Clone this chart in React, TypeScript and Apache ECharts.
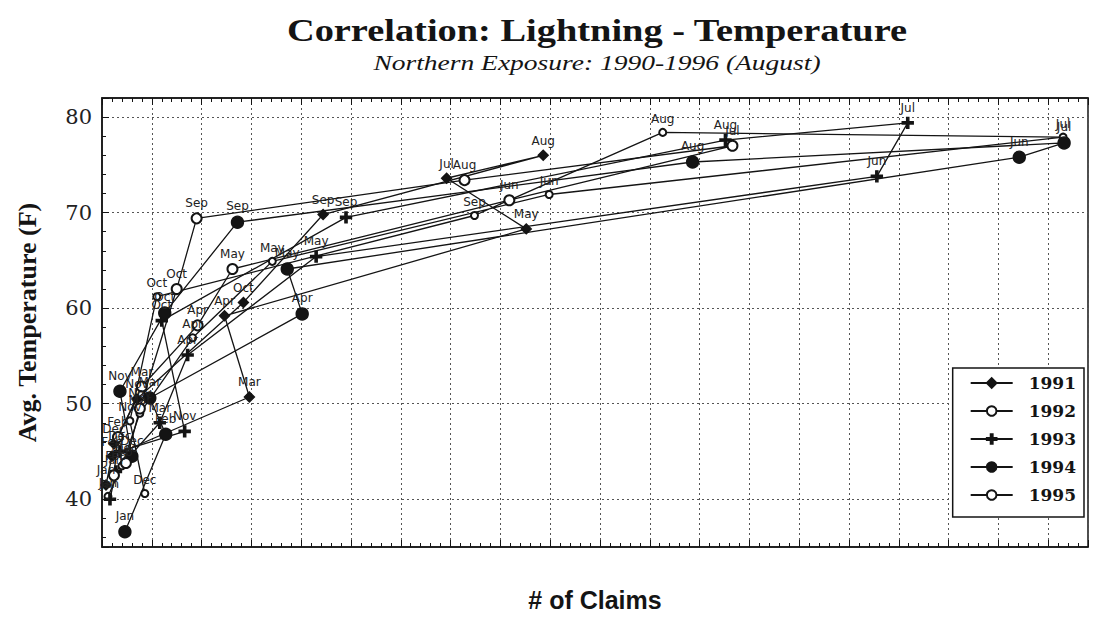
import React, { useEffect, useRef } from "react";
import * as echarts from "echarts";

// ---- data ----
const months1991 = ["Jan", "Feb", "Mar", "Apr", "May", "Jul", "Aug", "Sep", "Oct", "Nov", "Dec"];
const claims1991 = [4, 10, 148, 123, 426, 346, 443, 222, 142, 35, 12];
const temp1991 = [41.5, 44.5, 50.7, 59.2, 68.3, 73.6, 76.0, 69.8, 60.6, 50.5, 45.8];

const months1992 = ["Jan", "Feb", "Mar", "Apr", "May", "Jun", "Jul", "Aug", "Sep", "Oct", "Nov", "Dec"];
const claims1992 = [6, 20, 38, 91, 171, 449, 965, 563, 374, 55, 28, 43];
const temp1992 = [40.3, 43.5, 49.0, 56.9, 64.9, 71.9, 77.9, 78.4, 69.7, 61.2, 48.2, 40.6];

const months1993 = ["Jan", "Feb", "Mar", "Apr", "May", "Jun", "Jul", "Aug", "Sep", "Oct", "Nov", "Dec"];
const claims1993 = [8, 14, 58, 86, 215, 778, 809, 626, 245, 60, 83, 18];
const temp1993 = [40.0, 42.9, 48.0, 55.1, 65.4, 73.8, 79.4, 77.6, 69.5, 58.7, 47.1, 45.0];

const months1994 = ["Jan", "Feb", "Mar", "Apr", "May", "Jun", "Jul", "Aug", "Sep", "Oct", "Nov", "Dec"];
const claims1994 = [23, 64, 48, 201, 186, 921, 966, 593, 136, 63, 18, 30];
const temp1994 = [36.6, 46.8, 50.6, 59.4, 64.1, 75.8, 77.3, 75.3, 69.0, 59.5, 51.3, 44.5];

const months1995 = ["Jan", "Feb", "Mar", "Apr", "May", "Jun", "Jul", "Aug", "Sep", "Oct", "Nov", "Dec"];
const claims1995 = [12, 16, 40, 96, 131, 409, 633, 364, 95, 75, 38, 24];
const temp1995 = [42.5, 46.5, 51.8, 58.2, 64.1, 71.3, 77.0, 73.4, 69.4, 62.0, 49.5, 43.8];

const yearNames = ["1991", "1992", "1993", "1994", "1995"];

const PLUS = "path://M4,0H6V4H10V6H6V10H4V6H0V4H4Z";

function build(months: string[], xs: number[], ys: number[]) {
  return months.map((m, i) => ({ name: m, value: [xs[i], ys[i]] }));
}

export default function App() {
  const ref = useRef<HTMLDivElement>(null);
  useEffect(() => {
    if (!ref.current) return;
    const chart = echarts.init(ref.current, undefined, { renderer: "svg" });
    const ink = "#141414";
    const seriesDefs = [
      { name: yearNames[0], data: build(months1991, claims1991, temp1991), symbol: "diamond", size: 10 },
      { name: yearNames[1], data: build(months1992, claims1992, temp1992), symbol: "emptyCircle", size: 7 },
      { name: yearNames[2], data: build(months1993, claims1993, temp1993), symbol: PLUS, size: 11 },
      { name: yearNames[3], data: build(months1994, claims1994, temp1994), symbol: "circle", size: 12 },
      { name: yearNames[4], data: build(months1995, claims1995, temp1995), symbol: "emptyCircle", size: 10 },
    ];
    const grid = { left: 102, right: 6, top: 98, bottom: 77 };
    chart.setOption({
      animation: false,
      backgroundColor: "#fff",
      color: [ink, ink, ink, ink, ink],
      graphic: [
        {
          type: "text",
          x: 597,
          y: 31,
          scaleX: 1.2,
          style: {
            text: "Correlation: Lightning - Temperature",
            font: "bold 32px 'Liberation Serif', serif",
            fill: ink,
            textAlign: "center",
            textVerticalAlign: "middle",
          },
        },
        {
          type: "text",
          x: 597,
          y: 62,
          scaleX: 1.25,
          style: {
            text: "Northern Exposure: 1990-1996 (August)",
            font: "italic 22px 'Liberation Serif', serif",
            fill: ink,
            textAlign: "center",
            textVerticalAlign: "middle",
          },
        },
      ],
      grid: { ...grid, show: true, borderColor: ink, borderWidth: 1.5, backgroundColor: "transparent" },
      legend: {
        orient: "vertical",
        right: 10,
        top: 368,
        data: yearNames,
        backgroundColor: "#fff",
        borderColor: ink,
        borderWidth: 1.5,
        padding: [6, 8, 13, 17],
        itemWidth: 42,
        itemHeight: 12,
        itemGap: 10,
        textStyle: {
          fontFamily: "'DejaVu Serif', serif",
          fontWeight: "bold",
          fontSize: 17,
          color: ink,
          lineHeight: 18,
          padding: [0, 0, 0, 11],
        },
      },
      xAxis: [
        {
          type: "value",
          min: 0,
          max: 990,
          interval: 50,
          name: "# of Claims",
          nameLocation: "middle",
          nameGap: 40,
          nameTextStyle: {
            fontFamily: "'Liberation Sans', Arial, sans-serif",
            fontWeight: "bold",
            fontSize: 25,
            color: ink,
          },
          axisLine: { show: true, lineStyle: { color: ink, width: 1.5 } },
          axisTick: { show: true, inside: true, length: 7, lineStyle: { color: ink, width: 1 } },
          minorTick: { show: true, splitNumber: 5, length: 4, lineStyle: { color: ink, width: 1 } },
          axisLabel: { show: false },
          splitLine: { show: true, lineStyle: { color: "#555", width: 1, type: [2, 3] } },
        },
        {
          type: "value",
          position: "top",
          min: 0,
          max: 990,
          interval: 50,
          axisLine: { show: true, lineStyle: { color: ink, width: 1.5 } },
          axisTick: { show: true, inside: true, length: 7, lineStyle: { color: ink, width: 1 } },
          minorTick: { show: true, splitNumber: 5, length: 4, lineStyle: { color: ink, width: 1 } },
          axisLabel: { show: false },
          splitLine: { show: false },
        },
      ],
      yAxis: [
        {
          type: "value",
          min: 35,
          max: 82,
          splitNumber: 5,
          name: "Avg. Temperature (F)",
          nameLocation: "middle",
          nameGap: 62,
          nameTextStyle: {
            fontFamily: "'Liberation Serif', serif",
            fontWeight: "bold",
            fontSize: 26,
            color: ink,
          },
          axisLine: { show: true, lineStyle: { color: ink, width: 1.5 } },
          axisTick: { show: true, inside: true, length: 7, lineStyle: { color: ink, width: 1 } },
          minorTick: { show: true, splitNumber: 5, length: 4, lineStyle: { color: ink, width: 1 } },
          axisLabel: {
            showMinLabel: false,
            showMaxLabel: false,
            margin: 10,
            fontFamily: "'DejaVu Serif', serif",
            fontSize: 21,
            color: "#222",
          },
          splitLine: { show: true, lineStyle: { color: "#555", width: 1, type: [2, 3] } },
        },
      ],
      series: seriesDefs.map((s) => ({
        type: "line",
        name: s.name,
        data: s.data,
        symbol: s.symbol,
        symbolSize: s.size,
        showAllSymbol: true,
        lineStyle: { color: ink, width: 1.3 },
        itemStyle: { color: ink, borderColor: ink, borderWidth: 1.4 },
        label: {
          show: true,
          position: "top",
          distance: 3,
          formatter: "{b}",
          fontFamily: "'DejaVu Sans', Arial, sans-serif",
          fontSize: 12,
          color: "#222",
        },
        emphasis: { disabled: true },
        z: 3,
      })),
    });
    return () => chart.dispose();
  }, []);
  return (
    <div
      ref={ref}
      style={{ position: "fixed", left: 0, top: 0, width: 1094, height: 624 }}
    />
  );
}
